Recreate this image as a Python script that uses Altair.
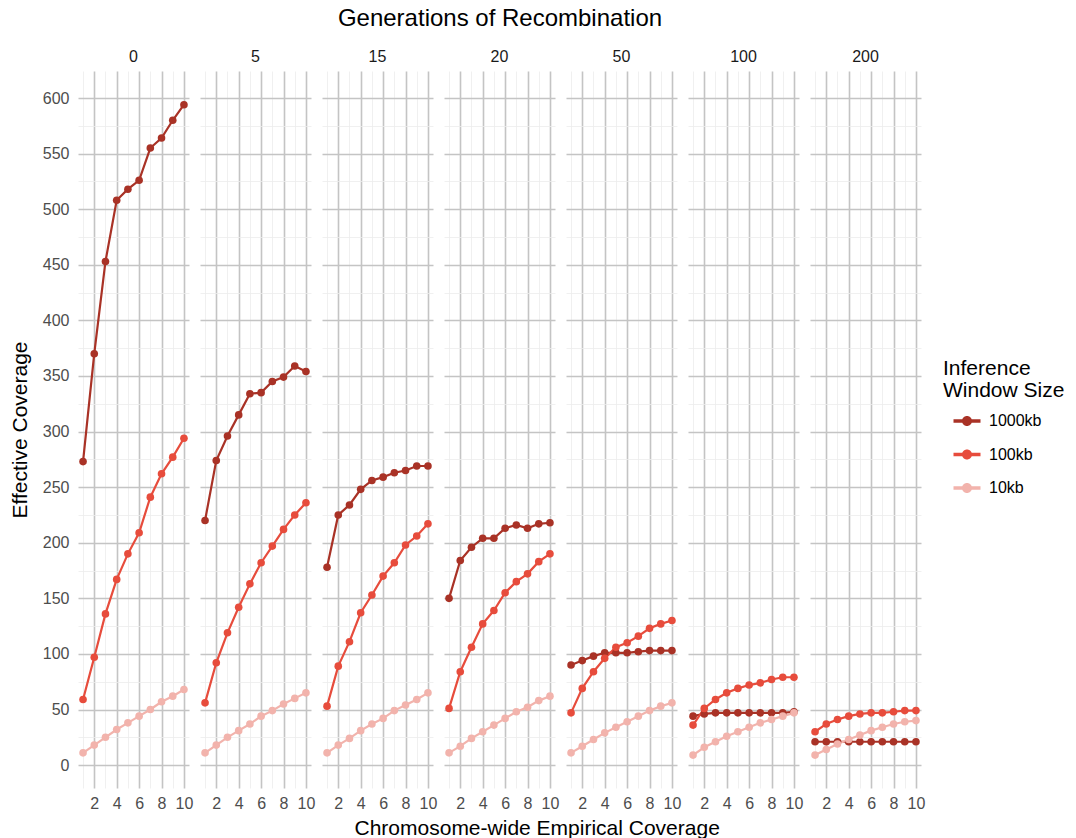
import altair as alt
import pandas as pd

generations = [0, 5, 15, 20, 50, 100, 200]
coverage = [1, 2, 3, 4, 5, 6, 7, 8, 9, 10]
windows = ["1000kb", "100kb", "10kb"]
colors = ["#A93226", "#E74C3C", "#F2B3AC"]

# Effective coverage per generation (order of `generations`), one list per window size
w1000kb = [
    [273, 370, 453, 508, 518, 526, 555, 564, 580, 594],
    [220, 274, 296, 315, 334, 335, 345, 349, 359, 354],
    [178, 225, 234, 248, 256, 259, 263, 265, 269, 269],
    [150, 184, 196, 204, 204, 213, 216, 213, 217, 218],
    [90, 94, 98, 101, 101, 101, 102, 103, 103, 103],
    [44, 46, 47, 47, 47, 47, 47, 47, 47, 48],
    [21, 21, 21, 21, 21, 21, 21, 21, 21, 21],
]
w100kb = [
    [59, 97, 136, 167, 190, 209, 241, 262, 277, 294],
    [56, 92, 119, 142, 163, 182, 197, 212, 225, 236],
    [53, 89, 111, 137, 153, 170, 182, 198, 206, 217],
    [51, 84, 106, 127, 139, 155, 165, 172, 183, 190],
    [47, 69, 84, 96, 106, 110, 116, 123, 127, 130],
    [36, 51, 59, 65, 69, 72, 74, 77, 79, 79],
    [30, 37, 41, 44, 46, 47, 47, 48, 49, 49],
]
w10kb = [
    [11, 18, 25, 32, 38, 44, 50, 57, 62, 68],
    [11, 18, 25, 31, 37, 44, 49, 55, 60, 65],
    [11, 18, 24, 31, 37, 42, 49, 54, 59, 65],
    [11, 17, 24, 30, 36, 42, 48, 52, 58, 62],
    [11, 17, 23, 29, 34, 39, 44, 49, 53, 56],
    [9, 16, 21, 26, 30, 34, 38, 41, 44, 47],
    [9, 14, 19, 23, 27, 31, 34, 37, 39, 40],
]

rows = []
for wname, series in zip(windows, [w1000kb, w100kb, w10kb]):
    for g, vals in zip(generations, series):
        for x, v in zip(coverage, vals):
            rows.append({"generation": g, "coverage": x, "effective": v, "window": wname})
df = pd.DataFrame(rows)

FONT = "Liberation Sans"
MAJOR = "#c4c4c4"
MINOR = "#ececec"

x_enc = alt.X(
    "coverage:Q",
    scale=alt.Scale(domain=[0.55, 10.45], nice=False, zero=False),
    axis=alt.Axis(
        values=coverage,
        labelExpr="datum.value % 2 === 0 ? datum.label : ''",
        title=None,
        ticks=False,
        domain=False,
        labelFontSize=16,
        labelColor="#4d4d4d",
        labelFont=FONT,
        labelPadding=7,
        labelOverlap=False,
        gridColor=alt.condition("datum.value % 2 === 0", alt.value(MAJOR), alt.value(MINOR)),
        gridWidth=alt.condition("datum.value % 2 === 0", alt.value(1.6), alt.value(0.8)),
    ),
)
y_enc = alt.Y(
    "effective:Q",
    scale=alt.Scale(domain=[-20.6, 624.3], nice=False, zero=False),
    axis=alt.Axis(
        values=list(range(0, 625, 25)),
        labelExpr="datum.value % 50 === 0 ? datum.label : ''",
        title="Effective Coverage",
        titleFontSize=21,
        titleFontWeight="normal",
        titleFont=FONT,
        titleColor="#000000",
        titlePadding=12,
        ticks=False,
        domain=False,
        labelFontSize=16,
        labelColor="#4d4d4d",
        labelFont=FONT,
        labelPadding=9,
        labelOverlap=False,
        gridColor=alt.condition("datum.value % 50 === 0", alt.value(MAJOR), alt.value(MINOR)),
        gridWidth=alt.condition("datum.value % 50 === 0", alt.value(1.6), alt.value(0.8)),
    ),
)

legend_path = (
    "M-1.35,-0.18 L1.35,-0.18 L1.35,0.18 L-1.35,0.18 Z "
    "M-0.5,0 A0.5,0.5 0 1,1 0.5,0 A0.5,0.5 0 1,1 -0.5,0 Z"
)

color_scale = alt.Scale(domain=windows, range=colors)
color_enc = alt.Color(
    "window:N",
    scale=color_scale,
    legend=alt.Legend(
        title=["Inference", "Window Size"],
        titleFontSize=21,
        titleFontWeight="normal",
        titleFont=FONT,
        titleColor="#000000",
        titleLineHeight=22,
        labelFontSize=16,
        labelFont=FONT,
        labelColor="#000000",
        symbolType=legend_path,
        symbolSize=400,
        symbolStrokeWidth=0,
        symbolOffset=14,
        labelOffset=12,
        orient="none",
        legendX=865,
        legendY=287,
        rowPadding=15.5,
        titlePadding=10,
    ),
)

lines = alt.Chart().mark_line(strokeWidth=2.2).encode(
    x=x_enc, y=y_enc, color=color_enc, detail="window:N"
)
points = alt.Chart().mark_circle(size=58, opacity=1).encode(
    x=x_enc, y=y_enc, color=color_enc
)

chart = (
    alt.layer(lines, points, data=df)
    .properties(width=111, height=717)
    .facet(
        column=alt.Column(
            "generation:O",
            sort=generations,
            header=alt.Header(
                title="Generations of Recombination",
                titleFontSize=24,
                titleFont=FONT,
                titleColor="#000000",
                titleFontWeight="normal",
                titlePadding=8,
                labelFontSize=16,
                labelFont=FONT,
                labelColor="#1a1a1a",
                labelPadding=6,
            ),
        ),
        spacing=11,
        bounds="flush",
    )
    .properties(
        title=alt.TitleParams(
            "Chromosome-wide Empirical Coverage",
            orient="bottom",
            anchor="middle",
            fontSize=21,
            font=FONT,
            fontWeight="normal",
            color="#000000",
            offset=7,
        ),
        padding={"left": 9, "top": 7, "right": 5, "bottom": 0},
        background="white",
    )
    .configure_view(stroke=None, strokeWidth=0)
    .configure_axis(domain=False, ticks=False)
)

chart.save("out.html", embed_options={"renderer": "svg", "actions": False})
